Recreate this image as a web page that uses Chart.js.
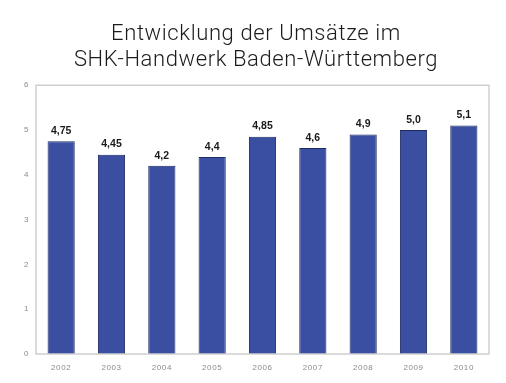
<!DOCTYPE html>
<html><head><meta charset="utf-8">
<script src="https://cdn.jsdelivr.net/npm/chart.js@4/dist/chart.umd.min.js"></script>
<style>html,body{margin:0;padding:0;background:#fff}#wrap{width:506px;height:383px}</style>
</head><body><div id="wrap"><canvas id="c" width="506" height="383"></canvas></div>
<script>
const titleLines = ["Entwicklung der Umsätze im", "SHK-Handwerk Baden-Württemberg"];
const years = ["2002","2003","2004","2005","2006","2007","2008","2009","2010"];
const revenue = [4.75, 4.45, 4.2, 4.4, 4.85, 4.6, 4.9, 5.0, 5.1];
const valueLabels = ["4,75","4,45","4,2","4,4","4,85","4,6","4,9","5,0","5,1"];
const yTicks = [0,1,2,3,4,5,6];

const spacingPlugin = {
  id: 'spacing',
  beforeDraw(chart) { chart.ctx.letterSpacing = '0.6px'; },
  beforeDatasetsDraw(chart) { chart.ctx.letterSpacing = '0px'; }
};
const boxPlugin = {
  id: 'box',
  afterDatasetsDraw(chart) {
    const a = chart.chartArea, ctx = chart.ctx;
    ctx.save();
    ctx.strokeStyle = '#cfcfcf';
    ctx.lineWidth = 1.5;
    ctx.strokeRect(a.left, a.top, a.right - a.left, a.bottom - a.top);
    ctx.restore();
  }
};
const labelPlugin = {
  id: 'vlabels',
  afterDatasetsDraw(chart) {
    const ctx = chart.ctx, meta = chart.getDatasetMeta(0);
    ctx.save();
    ctx.letterSpacing = '0px';
    ctx.font = 'bold 10.5px "Liberation Sans", Arial, sans-serif';
    ctx.fillStyle = '#1a1a1a';
    ctx.textAlign = 'center';
    ctx.textBaseline = 'bottom';
    meta.data.forEach((bar, i) => {
      ctx.fillText(valueLabels[i], bar.x, bar.y - 5);
    });
    ctx.restore();
  }
};

new Chart(document.getElementById('c'), {
  type: 'bar',
  data: {
    labels: years,
    datasets: [{
      data: revenue,
      backgroundColor: '#3a4ea2',
      borderColor: '#1e2a62',
      borderWidth: 1,
      categoryPercentage: 0.54,
      barPercentage: 1.0
    }]
  },
  options: {
    responsive: false,
    animation: false,
    layout: { padding: { left: 6, right: 0, top: 0, bottom: 0 } },
    plugins: {
      legend: { display: false },
      tooltip: { enabled: false },
      title: {
        display: true,
        text: titleLines,
        color: '#1c1c1c',
        font: { family: 'Roboto, "DejaVu Sans", sans-serif', size: 22, weight: '300', lineHeight: 1.21 },
        padding: { top: 21, bottom: 11 }
      }
    },
    scales: {
      x: {
        grid: { display: false, drawTicks: false },
        border: { display: false },
        ticks: { color: '#8a8a8a', font: { family: '"Liberation Sans", Arial, sans-serif', size: 8 }, padding: 9 },
        afterFit(s) { s.height = 29; }
      },
      y: {
        min: 0, max: 6,
        afterBuildTicks(s) { s.ticks = yTicks.map(v => ({ value: v })); },
        grid: { display: false, drawTicks: false },
        border: { display: false },
        ticks: { color: '#8a8a8a', font: { family: '"Liberation Sans", Arial, sans-serif', size: 8 }, padding: 7 },
        afterFit(s) { s.width = 30; }
      },
      yRight: {
        position: 'right',
        display: true,
        grid: { display: false, drawTicks: false },
        border: { display: false },
        ticks: { display: false },
        afterFit(s) { s.width = 17; }
      }
    }
  },
  plugins: [spacingPlugin, boxPlugin, labelPlugin]
});
</script>
</body></html>
